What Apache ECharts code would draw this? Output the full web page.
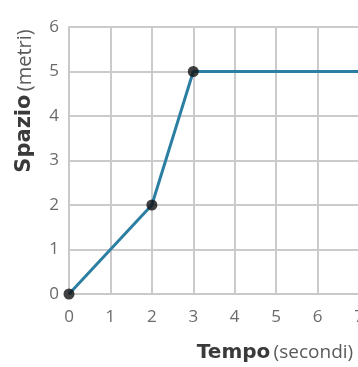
<!DOCTYPE html>
<html>
<head>
<meta charset="utf-8">
<script src="https://cdn.jsdelivr.net/npm/echarts@6/dist/echarts.min.js"></script>
<style>
  html, body { margin: 0; padding: 0; background: #fff; }
  #chart { width: 358px; height: 367px; }
</style>
</head>
<body>
<div id="chart"></div>
<script>
// Tempo (s) e spazio percorso (m)
const timeSec = [0, 2, 3, 7];
const spaceM = [0, 2, 5, 5];
// Punti evidenziati sul grafico
const markedTime = [0, 2, 3];
const markedSpace = [0, 2, 5];
const xTicks = [0, 1, 2, 3, 4, 5, 6, 7];
const yTicks = [0, 1, 2, 3, 4, 5, 6];

const FONT = 'Open Sans';
const BOLD_FONT = 'DejaVu Sans';
const chart = echarts.init(document.getElementById('chart'));

chart.setOption({
  animation: false,
  backgroundColor: '#ffffff',
  // the plot runs slightly past the right edge, so the last column is cut
  grid: { left: 69, top: 27, width: 290, height: 267, outerBoundsMode: 'none', containLabel: false },
  xAxis: {
    type: 'value',
    min: xTicks[0], max: xTicks[xTicks.length - 1], interval: 1,
    axisLine: { show: true, lineStyle: { color: '#c9c9c9', width: 2 } },
    axisTick: { show: false },
    splitLine: { show: true, lineStyle: { color: '#cbcbcb', width: 2 } },
    axisLabel: { color: '#6a6a6a', fontSize: 17, fontFamily: FONT, margin: 15,
                 showMaxLabel: true }
  },
  yAxis: {
    type: 'value',
    min: yTicks[0], max: yTicks[yTicks.length - 1], interval: 1,
    axisLine: { show: true, lineStyle: { color: '#c9c9c9', width: 2 } },
    axisTick: { show: false },
    splitLine: { show: true, lineStyle: { color: '#cbcbcb', width: 2 } },
    axisLabel: { color: '#6a6a6a', fontSize: 17, fontFamily: FONT, margin: 10 }
  },
  graphic: [
    {
      type: 'text',
      x: 25, y: 101,
      rotation: Math.PI / 2,
      style: {
        text: '{b|Spazio} {n|(metri)}',
        align: 'center', verticalAlign: 'middle',
        rich: {
          b: { fontFamily: BOLD_FONT, fontSize: 21, fontWeight: 'bold', fill: '#3a3a3a' },
          n: { fontFamily: FONT, fontSize: 20, fill: '#5a5a5a' }
        }
      }
    },
    {
      type: 'text',
      x: 275, y: 353,
      style: {
        text: '{b|Tempo} {n|(secondi)}',
        align: 'center', verticalAlign: 'middle',
        rich: {
          b: { fontFamily: BOLD_FONT, fontSize: 20, fontWeight: 'bold', fill: '#3a3a3a' },
          n: { fontFamily: FONT, fontSize: 19, fill: '#5a5a5a' }
        }
      }
    }
  ],
  series: [
    {
      type: 'line',
      data: timeSec.map((t, i) => [t, spaceM[i]]),
      symbol: 'none',
      lineStyle: { color: '#2c7fa3', width: 3 },
      z: 3
    },
    {
      type: 'scatter',
      data: markedTime.map((t, i) => [t, markedSpace[i]]),
      symbol: 'circle',
      symbolSize: 11,
      itemStyle: { color: '#111111' },
      z: 4
    }
  ]
});
</script>
</body>
</html>
